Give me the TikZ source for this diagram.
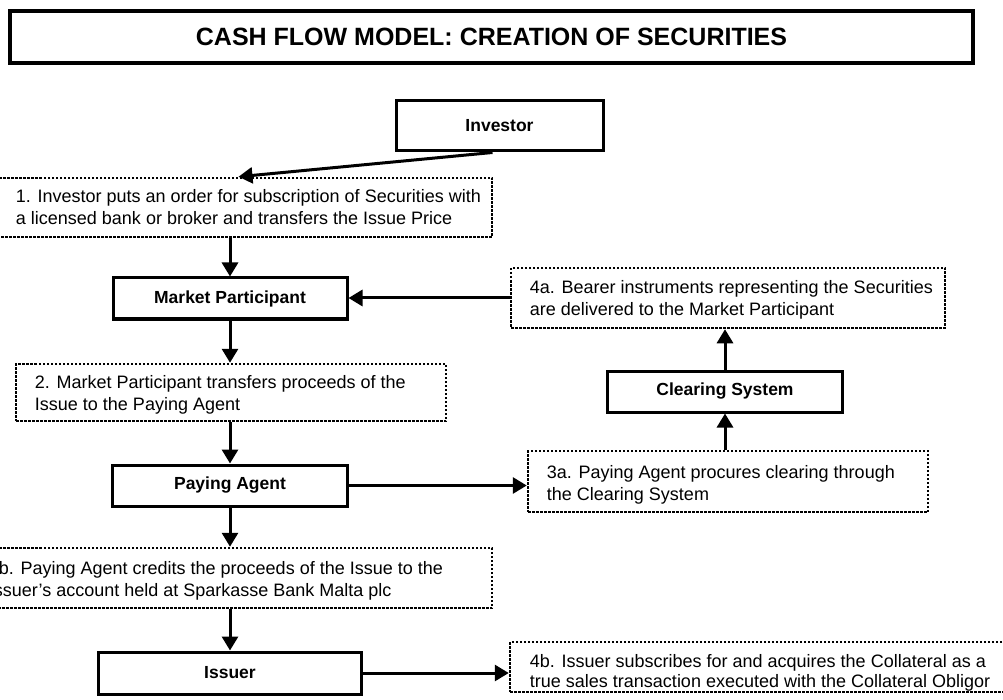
\documentclass[tikz,border=0pt]{standalone}
\usepackage{fontspec}
\setmainfont{Liberation Sans}
\usetikzlibrary{arrows.meta,calc}
\begin{document}
\begin{tikzpicture}[x=1pt,y=-1pt,
  solidbox/.style={draw, line width=3pt, minimum height=41pt, inner sep=0pt,
    font=\fontsize{17.5}{21}\selectfont\bfseries},
  dotbox/.style={draw, line width=2.5pt, dash pattern=on 2.5pt off 1.5pt, inner sep=0pt},
  bodytext/.style={font=\fontsize{18}{22}\selectfont, align=left, anchor=west, inner sep=0pt},
  arr/.style={line width=3pt, -{Triangle[length=14pt,width=16pt]}},
]
\useasboundingbox (0,0) rectangle (1003,700);

% title
\node[draw, line width=4pt, minimum width=963pt, minimum height=52pt, inner sep=0pt,
      font=\fontsize{25}{30}\selectfont\bfseries] (title) at (491.5,37)
      {CASH FLOW MODEL: CREATION OF SECURITIES};

% solid boxes
\node[solidbox, minimum width=207pt, minimum height=50pt] (inv) at (499.5,126) {Investor};
\node[solidbox, minimum width=234pt] (mp) at (230,298.5) {Market Participant};
\node[solidbox, minimum width=235pt] (pa) at (230,485.5) {Paying Agent};
\node[solidbox, minimum width=235pt] (cs) at (725,391.5) {Clearing System};
\node[solidbox, minimum width=263pt, minimum height=42pt] (iss) at (230,673) {Issuer};

% dotted boxes
\node[dotbox, minimum width=495pt, minimum height=59pt] (b1) at (244.5,207.5) {};
\node[bodytext] (t1) at ([xshift=20pt]b1.west)
  {1. Investor puts an order for subscription of Securities with\\a licensed bank or broker and transfers the Issue Price};

\node[dotbox, minimum width=430pt, minimum height=57pt] (b2) at (231,392.5) {};
\node[bodytext] (t2) at ([xshift=20pt,yshift=-2pt]b2.west)
  {2. Market Participant transfers proceeds of the\\Issue to the Paying Agent};

\node[dotbox, minimum width=434pt, minimum height=60pt] (b4a) at (728,298) {};
\node[bodytext] (t4a) at ([xshift=20pt,yshift=-2pt]b4a.west)
  {4a. Bearer instruments representing the Securities\\are delivered to the Market Participant};

\node[dotbox, minimum width=400pt, minimum height=61pt] (b3a) at (728,481.5) {};
\node[bodytext] (t3a) at ([xshift=20pt,yshift=-3pt]b3a.west)
  {3a. Paying Agent procures clearing through\\the Clearing System};

\node[dotbox, minimum width=522pt, minimum height=60pt] (b3b) at (231,578) {};
\node[bodytext] (t3b) at ([xshift=20pt,yshift=-3pt]b3b.west)
  {3b. Paying Agent credits the proceeds of the Issue to the\\Issuer’s account held at Sparkasse Bank Malta plc};

\node[dotbox, minimum width=505pt, minimum height=50pt] (b4b) at (762.5,667) {};
\node[bodytext, font=\fontsize{18}{20}\selectfont] (t4b) at ([xshift=21pt,yshift=-6pt]b4b.west)
  {4b. Issuer subscribes for and acquires the Collateral as a\\true sales transaction executed with the Collateral Obligor};

% connectors
\draw[arr] ([xshift=-7pt]inv.south) -- ([xshift=-6pt]b1.north);
\draw[arr] (b1.south -| mp.north) -- (mp.north);
\draw[arr] (b4a.west) -- (b4a.west -| mp.east);
\draw[arr] (mp.south) -- (mp.south |- b2.north);
\draw[arr] (b2.south -| pa.north) -- (pa.north);
\draw[arr] (pa.east) -- (pa.east -| b3a.west);
\draw[arr] (b3a.north -| cs.south) -- (cs.south);
\draw[arr] (cs.north) -- (cs.north |- b4a.south);
\draw[arr] (pa.south) -- (pa.south |- b3b.north);
\draw[arr] (b3b.south -| iss.north) -- (iss.north);
\draw[arr] (iss.east) -- (iss.east -| b4b.west);
\end{tikzpicture}
\end{document}
